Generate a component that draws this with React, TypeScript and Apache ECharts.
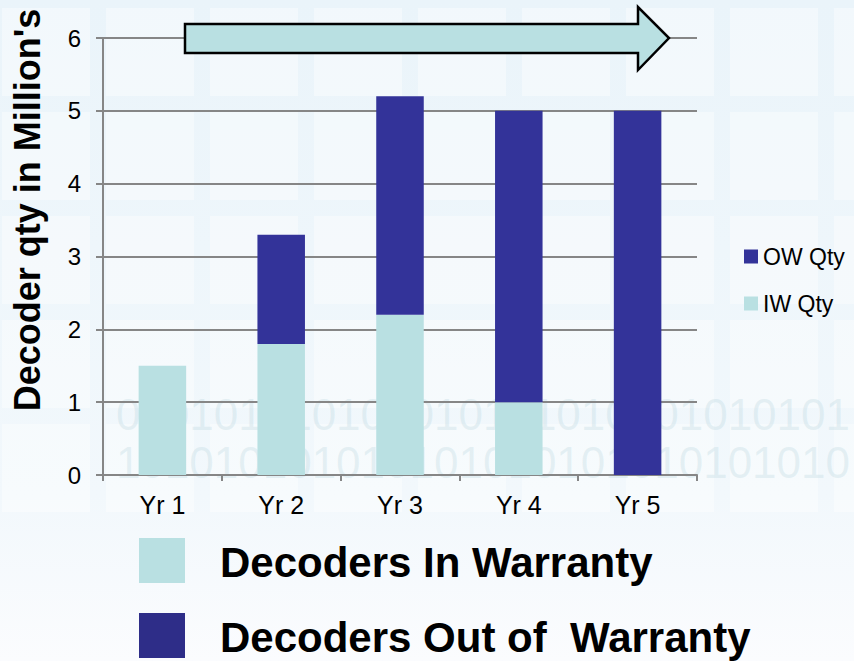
import React, { useEffect, useRef } from "react";
import * as echarts from "echarts";

const categories = ["Yr 1", "Yr 2", "Yr 3", "Yr 4", "Yr 5"];
const iwQty = [1.5, 1.8, 2.2, 1.0, 0];
const owQty = [0, 1.5, 3.0, 4.0, 5.0];
const yTicks = { min: 0, max: 6, interval: 1 };
const legendNames = ["OW Qty", "IW Qty"];
const yAxisTitle = "Decoder qty in Million's";
const bottomLegend = ["Decoders In Warranty", "Decoders Out of  Warranty"];
const binaryRow1 = "010101010101010101010101010101";
const binaryRow2 = "101010101010101010101010101010";

const IW_COLOR = "#b9e0e2";
const OW_COLOR = "#333399";

export default function App() {
  const ref = useRef<HTMLDivElement>(null);
  useEffect(() => {
    if (!ref.current) return;
    const chart = echarts.init(ref.current, null, { renderer: "svg" });
    const font = "'Liberation Sans', Arial, sans-serif";
    const bgSquares: any[] = [];
    for (let c = 0; c < 9; c++) {
      for (let r = 0; r < 5; r++) {
        bgSquares.push({
          type: "rect",
          z: -10,
          silent: true,
          shape: { x: 2 + c * 104, y: 8 + r * 104, width: 88, height: 88 },
          style: { fill: "rgba(255,255,255,0.4)" },
        });
      }
    }
    chart.setOption({
      animation: false,
      backgroundColor: {
        type: "linear",
        x: 0, y: 0, x2: 0, y2: 1,
        colorStops: [
          { offset: 0, color: "#eaf4fa" },
          { offset: 0.75, color: "#f2f8fc" },
          { offset: 1, color: "#fbfcfe" },
        ],
      },
      grid: { left: 103, right: 157, top: 38, bottom: 186 },
      legend: {
        data: legendNames,
        orient: "vertical",
        left: 739,
        top: 240,
        itemWidth: 14,
        itemHeight: 14,
        itemGap: 24,
        icon: "rect",
        textStyle: { fontFamily: font, fontSize: 23, color: "#000" },
      },
      xAxis: {
        type: "category",
        data: categories,
        axisLine: { lineStyle: { color: "#868686", width: 2 } },
        axisTick: { show: true, length: 6, lineStyle: { color: "#868686", width: 2 } },
        axisLabel: { fontFamily: font, fontSize: 25, color: "#000", margin: 17 },
      },
      yAxis: {
        type: "value",
        min: yTicks.min,
        max: yTicks.max,
        interval: yTicks.interval,
        axisLine: { show: true, lineStyle: { color: "#868686", width: 2 } },
        axisTick: { show: true, length: 7, lineStyle: { color: "#868686", width: 2 } },
        splitLine: { lineStyle: { color: "#868686", width: 2 } },
        axisLabel: { fontFamily: font, fontSize: 24, color: "#000", margin: 22 },
      },
      series: [
        {
          name: "IW Qty",
          type: "bar",
          stack: "qty",
          data: iwQty,
          barWidth: "40%",
          itemStyle: { color: IW_COLOR },
        },
        {
          name: "OW Qty",
          type: "bar",
          stack: "qty",
          data: owQty,
          barWidth: "40%",
          itemStyle: { color: OW_COLOR },
        },
      ],
      graphic: [
        ...bgSquares,
        {
          type: "text",
          z: -5,
          silent: true,
          x: 850,
          y: 392,
          style: {
            text: binaryRow1,
            align: "right",
            font: "44px 'Liberation Sans', sans-serif",
            fill: "rgba(170,205,215,0.25)",
          },
        },
        {
          type: "text",
          z: -5,
          silent: true,
          x: 850,
          y: 440,
          style: {
            text: binaryRow2,
            align: "right",
            font: "44px 'Liberation Sans', sans-serif",
            fill: "rgba(170,205,215,0.25)",
          },
        },
        {
          type: "text",
          x: 27,
          y: 210,
          rotation: Math.PI / 2,
          style: {
            text: yAxisTitle,
            align: "center",
            verticalAlign: "middle",
            font: `bold 36px ${font}`,
            fill: "#000",
          },
        },
        {
          type: "polygon",
          z: 10,
          shape: {
            points: [
              [185, 24], [638, 24], [638, 7], [669, 38], [638, 70], [638, 53], [185, 53],
            ],
          },
          style: { fill: IW_COLOR, stroke: "#000", lineWidth: 2.5, lineJoin: "miter" },
        },
        {
          type: "rect",
          shape: { x: 139, y: 538, width: 46, height: 45 },
          style: { fill: IW_COLOR },
        },
        {
          type: "rect",
          shape: { x: 139, y: 613, width: 46, height: 45 },
          style: { fill: "#2e2d88" },
        },
        {
          type: "text",
          left: 220,
          top: 541,
          style: { text: bottomLegend[0], font: `bold 42px ${font}`, fill: "#000" },
        },
        {
          type: "text",
          left: 220,
          top: 616,
          style: { text: bottomLegend[1], font: `bold 42px ${font}`, fill: "#000" },
        },
      ],
    });
    return () => chart.dispose();
  }, []);
  return <div ref={ref} style={{ width: 854, height: 661, position: "absolute", left: 0, top: 0 }} />;
}
